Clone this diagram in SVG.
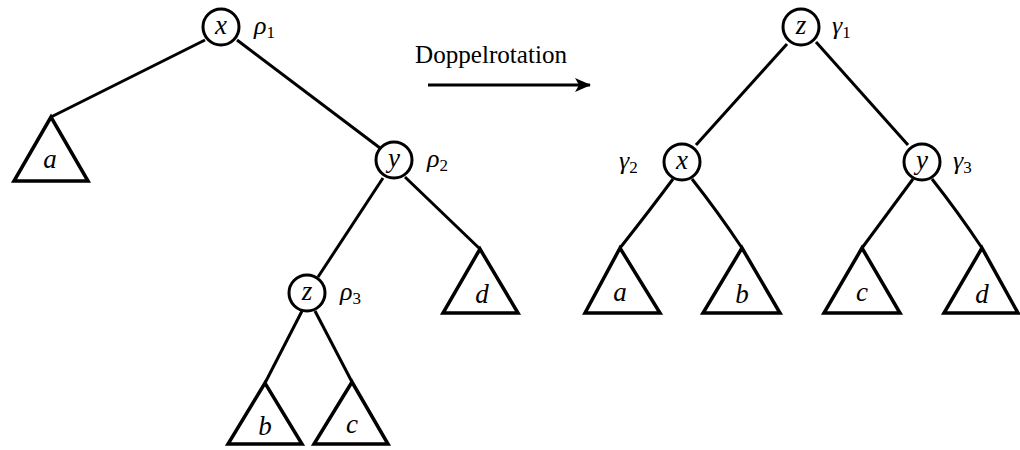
<svg xmlns="http://www.w3.org/2000/svg" width="1020" height="450" viewBox="0 0 1020 450">
<style>
.n{fill:#fff;stroke:#000;stroke-width:3}
.e{fill:none;stroke:#000;stroke-width:3;stroke-linejoin:round}
.t{fill:none;stroke:#000;stroke-width:3.5;stroke-linejoin:miter}
.m{font-family:"Liberation Serif","DejaVu Serif","Noto Serif",serif;font-style:italic;font-size:27px;text-anchor:middle}
.g{font-family:"Liberation Serif","DejaVu Serif","Noto Serif",serif;font-style:italic;font-size:26px}
.s{font-size:17px;font-style:normal}
.r{font-family:"Liberation Serif","DejaVu Serif","Noto Serif",serif;font-size:25px}
</style>
<defs>
<marker id="ah" viewBox="0 0 16 14" refX="15" refY="7" markerWidth="16" markerHeight="14" markerUnits="userSpaceOnUse" orient="auto">
<path d="M0,0 L16,7 L0,14 L4,7 Z" fill="#000"/>
</marker>
</defs>
<rect width="1020" height="450" fill="#fff"/>
<g id="connectors">
<line class="e" x1="205" y1="40" x2="51" y2="117"/>
<line class="e" x1="237" y1="40" x2="380" y2="148"/>
<line class="e" x1="405" y1="177" x2="480" y2="249"/>
<line class="e" x1="383" y1="178" x2="318" y2="277"/>
<line class="e" x1="302" y1="311" x2="265" y2="383"/>
<line class="e" x1="315" y1="311" x2="352" y2="382"/>
<line class="e" x1="787" y1="44" x2="696" y2="145"/>
<line class="e" x1="816" y1="42" x2="908" y2="145"/>
<path class="e" d="M673,179 Q650,210 620,248"/>
<path class="e" d="M692,179 Q718,212 742,248"/>
<path class="e" d="M913,179 Q890,210 862,248"/>
<path class="e" d="M932,179 Q958,212 982,248"/>
<line stroke="#000" stroke-width="3" x1="428" y1="85" x2="590" y2="85" marker-end="url(#ah)"/>
</g>
<g id="arrow-label"><text class="r" x="415" y="63" textLength="152" lengthAdjust="spacingAndGlyphs">Doppelrotation</text></g>
<g id="L-x"><circle class="n" cx="221" cy="27" r="18"/><text class="m" x="221" y="34">x</text><text class="g" x="254" y="34">ρ<tspan class="s" dy="4">1</tspan></text></g>
<g id="L-y"><circle class="n" cx="394" cy="160" r="18"/><text class="m" x="394" y="167">y</text><text class="g" x="427" y="167">ρ<tspan class="s" dy="4">2</tspan></text></g>
<g id="L-z"><circle class="n" cx="307" cy="293" r="18"/><text class="m" x="307" y="300">z</text><text class="g" x="340" y="300">ρ<tspan class="s" dy="4">3</tspan></text></g>
<g id="L-a"><polygon class="t" points="51,117 14,181 88,181"/><text class="m" x="50" y="168">a</text></g>
<g id="L-d"><polygon class="t" points="480,249 443,313 518,313"/><text class="m" x="482" y="303">d</text></g>
<g id="L-b"><polygon class="t" points="265,383 228,444 302,444"/><text class="m" x="265" y="435">b</text></g>
<g id="L-c"><polygon class="t" points="352,382 314,444 388,444"/><text class="m" x="352" y="433">c</text></g>
<g id="R-z"><circle class="n" cx="801" cy="27" r="18"/><text class="m" x="801" y="34">z</text><text class="g" x="832" y="34">γ<tspan class="s" dy="4">1</tspan></text></g>
<g id="R-x"><circle class="n" cx="682" cy="162" r="18"/><text class="m" x="682" y="169">x</text><text class="g" x="619" y="169">γ<tspan class="s" dy="4">2</tspan></text></g>
<g id="R-y"><circle class="n" cx="922" cy="162" r="18"/><text class="m" x="922" y="169">y</text><text class="g" x="953" y="169">γ<tspan class="s" dy="4">3</tspan></text></g>
<g id="R-a"><polygon class="t" points="620,248 585,313 660,313"/><text class="m" x="620" y="301">a</text></g>
<g id="R-b"><polygon class="t" points="742,248 703,313 780,313"/><text class="m" x="742" y="303">b</text></g>
<g id="R-c"><polygon class="t" points="862,248 824,313 900,313"/><text class="m" x="862" y="301">c</text></g>
<g id="R-d"><polygon class="t" points="982,248 944,313 1018,313"/><text class="m" x="982" y="303">d</text></g>
</svg>
